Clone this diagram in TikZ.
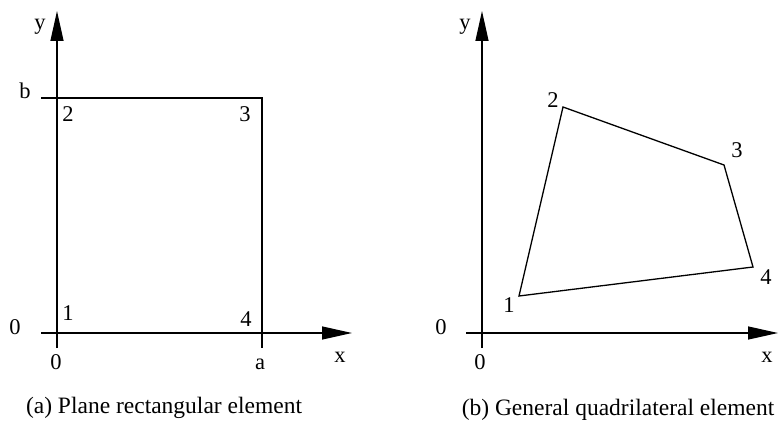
\documentclass[tikz,border=0pt]{standalone}
\usepackage{fontspec}
\setmainfont{Liberation Serif}
\usetikzlibrary{arrows.meta}
\begin{document}
\begin{tikzpicture}[x=1pt,y=-1pt,
  lbl/.style={font=\fontsize{22.5}{26}\selectfont, inner sep=0pt},
  captext/.style={font=\fontsize{23.5}{27}\selectfont, inner sep=0pt},
  edge/.style={line width=1.3pt},
  axis/.style={line width=1.3pt,-{Triangle[length=30pt,width=13pt]}}]
\useasboundingbox (0,0) rectangle (784,428);
% ---------- left panel ----------
\coordinate (aO) at (57,333);
\coordinate (ayS) at (57,348);
\coordinate (ayE) at (57,11);
\coordinate (axS) at (41,333);
\coordinate (axE) at (352,333);
\coordinate (a2) at (57,98);
\coordinate (bS) at (41,98);
\coordinate (a3) at (262,98);
\coordinate (a4) at (262,333);
\coordinate (aS) at (262,348);
\draw[axis] (ayS) -- (ayE);
\draw[axis] (axS) -- (axE);
\draw[edge] (bS) -- (a3) -- (aS);
\node[lbl] (ay) at (40,27) {y};
\node[lbl] (ab) at (25,91) {b};
\node[lbl] (an2) at (68,114) {2};
\node[lbl] (an3) at (245,114) {3};
\node[lbl] (an1) at (68,313) {1};
\node[lbl] (an4) at (246,319) {4};
\node[lbl] (a0l) at (15,327) {0};
\node[lbl] (a0b) at (56,362) {0};
\node[lbl] (aa) at (260,364) {a};
\node[lbl] (ax) at (340,357) {x};
\node[captext] (capa) at (164,408) {(a) Plane rectangular element};
% ---------- right panel ----------
\coordinate (byS) at (482,348);
\coordinate (byE) at (482,11);
\coordinate (bxS) at (466,333);
\coordinate (bxE) at (778,333);
\coordinate (q1) at (519,296);
\coordinate (q2) at (563,107);
\coordinate (q3) at (724,165);
\coordinate (q4) at (753,267);
\draw[axis] (byS) -- (byE);
\draw[axis] (bxS) -- (bxE);
\draw[edge,line join=miter] (q1) -- (q2) -- (q3) -- (q4) -- cycle;
\node[lbl] (by) at (465,27) {y};
\node[lbl] (bn2) at (553,100) {2};
\node[lbl] (bn3) at (737,150) {3};
\node[lbl] (bn4) at (766,277) {4};
\node[lbl] (bn1) at (509,305) {1};
\node[lbl] (b0l) at (441,327) {0};
\node[lbl] (b0b) at (480,362) {0};
\node[lbl] (bx) at (767,357) {x};
\node[captext] (capb) at (618,410) {(b) General quadrilateral element};
\end{tikzpicture}
\end{document}
